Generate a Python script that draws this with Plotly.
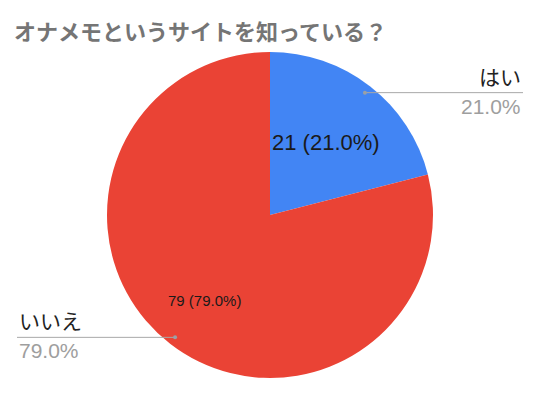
import math
import plotly.graph_objects as go

title = "オナメモというサイトを知っている？"
labels = ["はい", "いいえ"]
values = [21, 79]
colors = ["#4285F4", "#EA4335"]

W, H = 540, 393
cx, cy, R = 270, 215, 163  # pie geometry in px (from top-left)

fig = go.Figure(go.Pie(
    labels=labels, values=values, sort=False, direction="clockwise", rotation=0,
    marker=dict(colors=colors, line=dict(width=0)),
    textinfo="none",
    domain=dict(x=[(cx - R) / W, (cx + R) / W], y=[(H - cy - R) / H, (H - cy + R) / H]),
    showlegend=False, hoverinfo="skip",
))

total = sum(values)
inner_r = [0.56, 0.66]
inner_size = [22, 15]
cum = 0
shapes, annos = [], []
for i, v in enumerate(values):
    mid = (cum + v / 2) / total
    cum += v
    ang = math.radians(90 - 360 * mid)
    # inside label
    ix = cx + inner_r[i] * R * math.cos(ang)
    iy = cy - inner_r[i] * R * math.sin(ang)
    annos.append(dict(xref="paper", yref="paper", x=ix / W, y=1 - iy / H,
                      text=f"{v} ({100 * v / total:.1f}%)", showarrow=False,
                      xanchor="center", yanchor="middle",
                      font=dict(size=inner_size[i], color="#1a1a1a", family="Arial, Liberation Sans")))
    # leader line
    px = cx + 0.95 * R * math.cos(ang)
    py = cy - 0.95 * R * math.sin(ang)
    right = math.cos(ang) > 0
    x_end = 523 if right else 17
    yp = 1 - py / H
    shapes.append(dict(type="line", xref="paper", yref="paper", x0=px / W, x1=x_end / W,
                       y0=yp, y1=yp, line=dict(color="#A8A8A8", width=1)))
    shapes.append(dict(type="circle", xref="paper", yref="paper",
                       x0=(px - 2) / W, x1=(px + 2) / W, y0=yp - 2 / H, y1=yp + 2 / H,
                       fillcolor="#9AA0A6", line=dict(width=0)))
    anchor = "right" if right else "left"
    annos.append(dict(xref="paper", yref="paper", x=x_end / W, y=yp, text=labels[i],
                      xanchor=anchor, yanchor="bottom", showarrow=False,
                      font=dict(size=21, color="#222", family="Noto Sans CJK JP")))
    annos.append(dict(xref="paper", yref="paper", x=x_end / W, y=yp,
                      text=f"{100 * v / total:.1f}%",
                      xanchor=anchor, yanchor="top", showarrow=False,
                      font=dict(size=21, color="#9E9E9E", family="Arial, Liberation Sans")))

annos.append(dict(xref="paper", yref="paper", x=12 / W, y=1 - 30 / H, text=f"<b>{title}</b>",
                  xanchor="left", yanchor="middle", showarrow=False,
                  font=dict(size=22, color="#757575", family="Noto Sans CJK JP")))

fig.update_layout(width=W, height=H, margin=dict(l=0, r=0, t=0, b=0),
                  paper_bgcolor="white", plot_bgcolor="white",
                  shapes=shapes, annotations=annos)
fig.write_html("out.html")
